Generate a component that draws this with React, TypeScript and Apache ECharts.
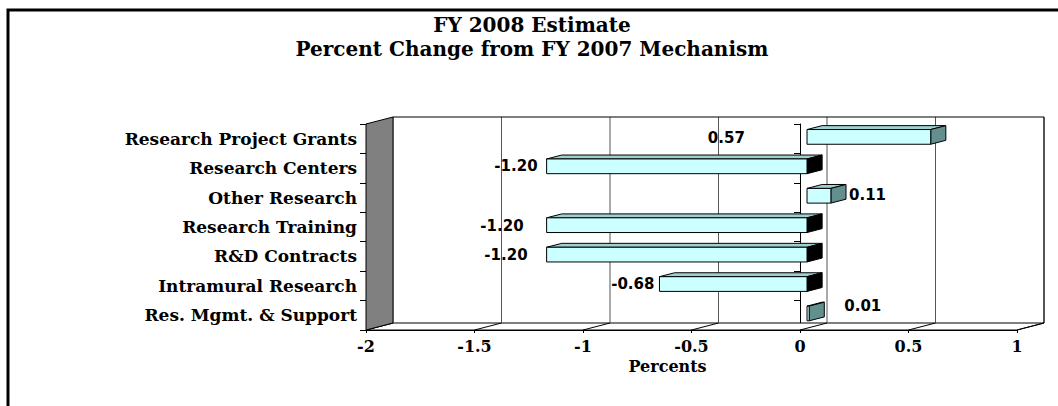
import React, { useEffect, useRef } from 'react';
import * as echarts from 'echarts';

const categories = [
  'Research Project Grants',
  'Research Centers',
  'Other Research',
  'Research Training',
  'R&D Contracts',
  'Intramural Research',
  'Res. Mgmt. & Support',
];
const percentChange = [0.57, -1.2, 0.11, -1.2, -1.2, -0.68, 0.01];
const xTicks = [-2, -1.5, -1, -0.5, 0, 0.5, 1];
const titleLines = ['FY 2008 Estimate', 'Percent Change from FY 2007 Mechanism'];
const xAxisName = 'Percents';

// label nudges in pixels (style only)
const labelNudge = [[-241, 1], [0, 0], [0, -1], [-14, 1], [-10, 0], [4, 0], [17, -7]];

const DX = 27;
const DY = -7;
const F1 = 0.26;
const F2 = 0.82;
const SERIF = '"DejaVu Serif", serif';
const SANS = '"DejaVu Sans", sans-serif';

export default function App() {
  const ref = useRef<HTMLDivElement>(null);
  useEffect(() => {
    if (!ref.current) return;
    const chart = echarts.init(ref.current, undefined, { renderer: 'svg' });
    const option: any = {
      animation: false,
      backgroundColor: '#fff',
      title: {
        text: titleLines[0],
        subtext: titleLines[1],
        left: 532,
        top: 15,
        textAlign: 'center',
        padding: 0,
        itemGap: 4,
        textStyle: { fontFamily: SERIF, fontWeight: 'bold', fontSize: 20, lineHeight: 20, color: '#000' },
        subtextStyle: { fontFamily: SERIF, fontWeight: 'bold', fontSize: 20, lineHeight: 20, color: '#000' },
      },
      graphic: [
        {
          type: 'rect',
          shape: { x: 8, y: 10, width: 1200, height: 600 },
          style: { fill: 'none', stroke: '#000', lineWidth: 3 },
          silent: true,
          z: 100,
        },
      ],
      grid: { left: 366, right: 41, top: 124, bottom: 76, containLabel: false },
      xAxis: {
        type: 'value',
        min: -2,
        max: 1,
        interval: 0.5,
        axisLine: { show: true, onZero: false, lineStyle: { color: '#000', width: 1 } },
        axisTick: { show: true, length: 3, lineStyle: { color: '#000' } },
        axisLabel: { fontFamily: SERIF, fontWeight: 'bold', fontSize: 16, color: '#000', margin: 8 },
        splitLine: { show: false },
        name: xAxisName,
        nameLocation: 'middle',
        nameGap: 28,
        nameTextStyle: { fontFamily: SERIF, fontWeight: 'bold', fontSize: 16, color: '#000', padding: [0, 48, 0, 0] },
      },
      yAxis: [
        {
          type: 'category',
          data: categories,
          inverse: true,
          axisLine: { show: true, onZero: false, lineStyle: { color: '#000' } },
          axisTick: { show: true, length: 6, lineStyle: { color: '#000' } },
          axisLabel: { fontFamily: SERIF, fontWeight: 'bold', fontSize: 17, color: '#000', margin: 9 },
          splitLine: { show: false },
        },
        {
          type: 'category',
          data: categories,
          inverse: true,
          position: 'left',
          axisLine: { show: true, onZero: true, lineStyle: { color: '#000' } },
          axisTick: { show: true, length: 6, lineStyle: { color: '#000' } },
          axisLabel: { show: false },
          splitLine: { show: false },
        },
      ],
      series: [
        {
          type: 'custom',
          name: 'frame',
          silent: true,
          z: 1,
          yAxisIndex: 0,
          data: [[0, 0]],
          encode: { x: 0, y: 1 },
          renderItem: (params: any, api: any) => {
            const cs = params.coordSys;
            const x0 = cs.x, y0 = cs.y, x1 = cs.x + cs.width, y1 = cs.y + cs.height;
            const children: any[] = [];
            children.push({
              type: 'polygon',
              shape: { points: [[x0, y1], [x0 + DX, y1 + DY], [x1 + DX, y1 + DY], [x1, y1]] },
              style: { fill: '#fff', stroke: '#000', lineWidth: 1 },
            });
            xTicks.forEach((t) => {
              const x = api.coord([t, 0])[0];
              children.push({
                type: 'line',
                shape: { x1: x + DX, y1: y0 + DY, x2: x + DX, y2: y1 + DY },
                style: { stroke: '#555', lineWidth: 1 },
              });
              children.push({
                type: 'line',
                shape: { x1: x, y1: y1, x2: x + DX, y2: y1 + DY },
                style: { stroke: '#000', lineWidth: 1 },
              });
            });
            children.push({
              type: 'polyline',
              shape: { points: [[x0 + DX, y0 + DY], [x1 + DX, y0 + DY], [x1 + DX, y1 + DY]] },
              style: { fill: 'none', stroke: '#000', lineWidth: 1 },
            });
            children.push({
              type: 'polygon',
              shape: { points: [[x0, y0], [x0 + DX, y0 + DY], [x0 + DX, y1 + DY], [x0, y1]] },
              style: { fill: '#808080', stroke: '#000', lineWidth: 1 },
            });
            return { type: 'group', children };
          },
        },
        {
          type: 'custom',
          name: 'Percent change',
          z: 3,
          yAxisIndex: 0,
          data: percentChange.map((v, i) => [v, i]),
          encode: { x: 0, y: 1 },
          renderItem: (params: any, api: any) => {
            const v = api.value(0) as number;
            const idx = api.value(1) as number;
            const i = params.dataIndex;
            const p0 = api.coord([0, idx]);
            const p1 = api.coord([v, idx]);
            const band = api.size([0, 1])[1];
            const h = band * 0.5;
            const o1x = F1 * DX, o1y = F1 * DY;
            const ddx = (F2 - F1) * DX, ddy = (F2 - F1) * DY;
            const L = Math.min(p0[0], p1[0]) + o1x;
            const R = Math.max(p0[0], p1[0]) + o1x;
            const T = p0[1] - h / 2 + o1y;
            const B = p0[1] + h / 2 + o1y;
            const sideColor = v < 0 ? '#000' : '#638f8f';
            const nudge = labelNudge[i] || [0, 0];
            const neg = v < 0;
            const lx = (neg ? L - 9 : R + ddx + 3) + nudge[0];
            const ly = (T + B) / 2 + nudge[1];
            return {
              type: 'group',
              children: [
                {
                  type: 'polygon',
                  shape: { points: [[L, T], [R, T], [R + ddx, T + ddy], [L + ddx, T + ddy]] },
                  style: { fill: '#9fcfcf', stroke: '#000', lineWidth: 1 },
                },
                {
                  type: 'polygon',
                  shape: { points: [[R, T], [R + ddx, T + ddy], [R + ddx, B + ddy], [R, B]] },
                  style: { fill: sideColor, stroke: '#000', lineWidth: 1 },
                },
                {
                  type: 'rect',
                  shape: { x: L, y: T, width: R - L, height: B - T },
                  style: { fill: '#ccffff', stroke: '#000', lineWidth: 1 },
                },
                {
                  type: 'text',
                  style: {
                    text: v.toFixed(2),
                    x: lx,
                    y: ly,
                    align: neg ? 'right' : 'left',
                    verticalAlign: 'middle',
                    fontFamily: SANS,
                    fontWeight: 'bold',
                    fontSize: 15,
                    fill: '#000',
                  },
                },
              ],
            };
          },
        },
      ],
    };
    chart.setOption(option);
    return () => chart.dispose();
  }, []);
  return <div ref={ref} style={{ position: 'absolute', left: 0, top: 0, width: 1058, height: 406 }} />;
}
